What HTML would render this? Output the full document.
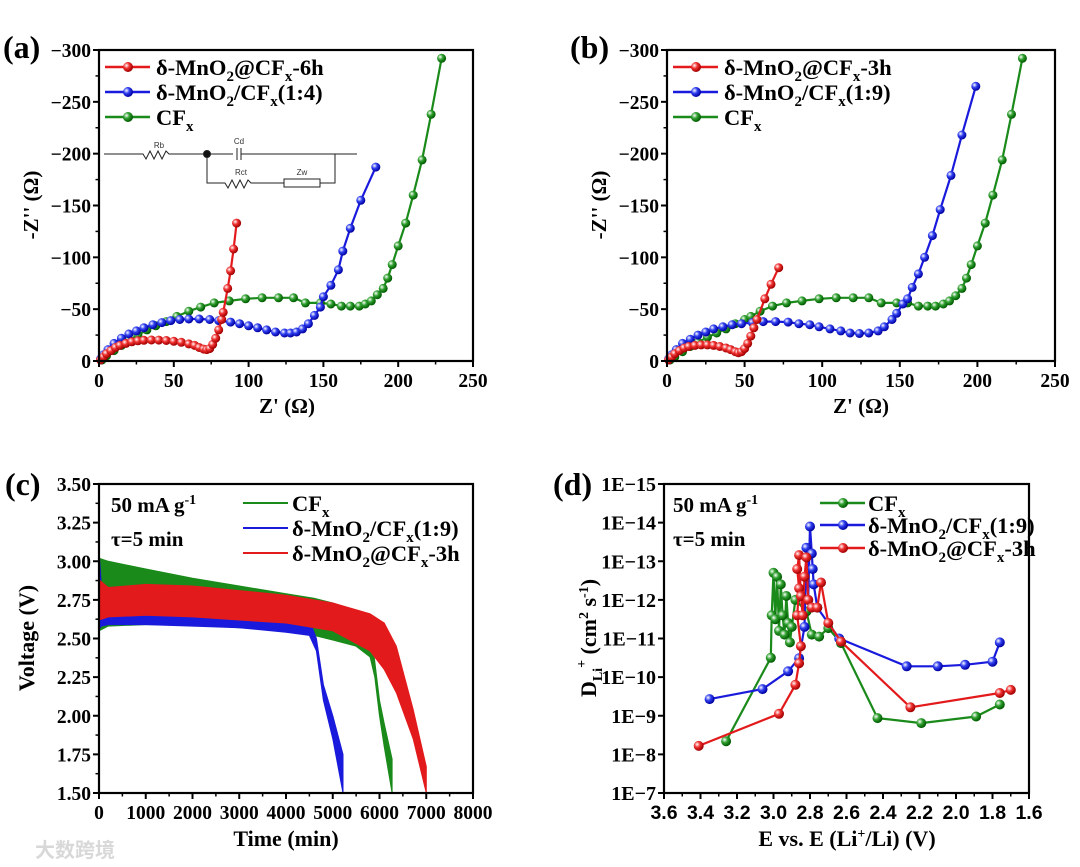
<!DOCTYPE html>
<html><head><meta charset="utf-8"><style>
html,body{margin:0;padding:0;background:#fff;}
svg{display:block;font-family:"Liberation Serif",serif;font-weight:bold;}
</style></head><body>
<svg id="fig" width="1080" height="867" viewBox="0 0 1080 867" xmlns="http://www.w3.org/2000/svg">
<defs>
<radialGradient id="gRed" cx="35%" cy="35%" r="65%"><stop offset="0" stop-color="#fff"/><stop offset="0.45" stop-color="#f03030"/><stop offset="1" stop-color="#a00000"/></radialGradient>
<radialGradient id="gBlue" cx="35%" cy="35%" r="65%"><stop offset="0" stop-color="#fff"/><stop offset="0.45" stop-color="#3040f0"/><stop offset="1" stop-color="#0000a0"/></radialGradient>
<radialGradient id="gGreen" cx="35%" cy="35%" r="65%"><stop offset="0" stop-color="#fff"/><stop offset="0.45" stop-color="#30a030"/><stop offset="1" stop-color="#005a00"/></radialGradient>
</defs>
<g id="layer-marks"></g>
<g id="layer-axes"></g>

<text x="3" y="58" font-size="32">(a)</text>
<text x="570" y="58" font-size="32">(b)</text>
<text x="5" y="495" font-size="32">(c)</text>
<text x="553" y="495" font-size="32">(d)</text>

<text x="287" y="413" font-size="21" text-anchor="middle">Z' (Ω)</text>
<text transform="translate(38,205) rotate(-90)" font-size="21" text-anchor="middle">-Z'' (Ω)</text>
<text x="861" y="413" font-size="21" text-anchor="middle">Z' (Ω)</text>
<text transform="translate(606,205) rotate(-90)" font-size="21" text-anchor="middle">-Z'' (Ω)</text>
<text x="286" y="846" font-size="22" text-anchor="middle">Time (min)</text>
<text transform="translate(34,638) rotate(-90)" font-size="22" text-anchor="middle">Voltage (V)</text>
<text x="847" y="846" font-size="22" text-anchor="middle">E vs. E (Li<tspan font-size="14" dy="-8">+</tspan><tspan dy="8">/Li) (V)</tspan></text>
<text transform="translate(596,638) rotate(-90)" font-size="22" text-anchor="middle">D<tspan font-size="14" dy="6">Li</tspan><tspan font-size="14" dy="-16">+</tspan><tspan dy="10"> (cm</tspan><tspan font-size="14" dy="-8">2</tspan><tspan dy="8"> s</tspan><tspan font-size="14" dy="-8">-1</tspan><tspan dy="8">)</tspan></text>

<g>
<line x1="105" y1="67" x2="150" y2="67" stroke="#e31a1c" stroke-width="2.5"/><circle cx="128" cy="67" r="5" fill="url(#gRed)"/>
<text x="156" y="75" font-size="22.5">δ-MnO<tspan font-size="15" dy="6">2</tspan><tspan dy="-6">@CF</tspan><tspan font-size="15" dy="6">x</tspan><tspan dy="-6">-6h</tspan></text>
<line x1="105" y1="92" x2="150" y2="92" stroke="#1a1adc" stroke-width="2.5"/><circle cx="128" cy="92" r="5" fill="url(#gBlue)"/>
<text x="156" y="100" font-size="22.5">δ-MnO<tspan font-size="15" dy="6">2</tspan><tspan dy="-6">/CF</tspan><tspan font-size="15" dy="6">x</tspan><tspan dy="-6">(1:4)</tspan></text>
<line x1="105" y1="117" x2="150" y2="117" stroke="#1a8a1a" stroke-width="2.5"/><circle cx="128" cy="117" r="5" fill="url(#gGreen)"/>
<text x="156" y="125" font-size="22.5">CF<tspan font-size="15" dy="6">x</tspan></text>
</g>
<g stroke="#222" stroke-width="1" fill="none" font-family="Liberation Sans, sans-serif" font-weight="normal">
<path d="M104 154 H143 l3 5 l4 -8 l4 8 l4 -8 l4 8 l4 -8 l3 3 H233 M237 148 V160 M241 148 V160 M241 154 H357"/>
<path d="M207 154 V183 H225 l3 5 l4 -8 l4 8 l4 -8 l4 8 l4 -8 l3 3 H284 M320 183 H335 V154"/>
<rect x="284" y="179" width="36" height="8"/>
<circle cx="207" cy="154" r="3.5" fill="#111"/>
<text x="159" y="148" font-size="8" fill="#333" stroke="none" text-anchor="middle">Rb</text>
<text x="239" y="144" font-size="8" fill="#333" stroke="none" text-anchor="middle">Cd</text>
<text x="241" y="175" font-size="8" fill="#333" stroke="none" text-anchor="middle">Rct</text>
<text x="302" y="175" font-size="8" fill="#333" stroke="none" text-anchor="middle">Zw</text>
</g>
<g>
<line x1="673" y1="67" x2="718" y2="67" stroke="#e31a1c" stroke-width="2.5"/><circle cx="696" cy="67" r="5" fill="url(#gRed)"/>
<text x="724" y="75" font-size="22.5">δ-MnO<tspan font-size="15" dy="6">2</tspan><tspan dy="-6">@CF</tspan><tspan font-size="15" dy="6">x</tspan><tspan dy="-6">-3h</tspan></text>
<line x1="673" y1="92" x2="718" y2="92" stroke="#1a1adc" stroke-width="2.5"/><circle cx="696" cy="92" r="5" fill="url(#gBlue)"/>
<text x="724" y="100" font-size="22.5">δ-MnO<tspan font-size="15" dy="6">2</tspan><tspan dy="-6">/CF</tspan><tspan font-size="15" dy="6">x</tspan><tspan dy="-6">(1:9)</tspan></text>
<line x1="673" y1="117" x2="718" y2="117" stroke="#1a8a1a" stroke-width="2.5"/><circle cx="696" cy="117" r="5" fill="url(#gGreen)"/>
<text x="724" y="125" font-size="22.5">CF<tspan font-size="15" dy="6">x</tspan></text>
</g>
<g>
<text x="111" y="512" font-size="21">50 mA g<tspan font-size="14" dy="-8">-1</tspan></text>
<text x="111" y="546" font-size="21">τ=5 min</text>
<line x1="243" y1="503" x2="288" y2="503" stroke="#1a8a1a" stroke-width="2"/>
<text x="292" y="511" font-size="22.5">CF<tspan font-size="15" dy="6">x</tspan></text>
<line x1="243" y1="528" x2="288" y2="528" stroke="#1a1adc" stroke-width="2"/>
<text x="292" y="536" font-size="22.5">δ-MnO<tspan font-size="15" dy="6">2</tspan><tspan dy="-6">/CF</tspan><tspan font-size="15" dy="6">x</tspan><tspan dy="-6">(1:9)</tspan></text>
<line x1="243" y1="553" x2="288" y2="553" stroke="#e31a1c" stroke-width="2"/>
<text x="292" y="561" font-size="22.5">δ-MnO<tspan font-size="15" dy="6">2</tspan><tspan dy="-6">@CF</tspan><tspan font-size="15" dy="6">x</tspan><tspan dy="-6">-3h</tspan></text>
</g>
<g>
<text x="673" y="512" font-size="21">50 mA g<tspan font-size="14" dy="-8">-1</tspan></text>
<text x="673" y="546" font-size="21">τ=5 min</text>
<line x1="820" y1="503" x2="865" y2="503" stroke="#1a8a1a" stroke-width="2.5"/><circle cx="843" cy="503" r="5" fill="url(#gGreen)"/>
<text x="868" y="511" font-size="22.5">CF<tspan font-size="15" dy="6">x</tspan></text>
<line x1="820" y1="525" x2="865" y2="525" stroke="#1a1adc" stroke-width="2.5"/><circle cx="843" cy="525" r="5" fill="url(#gBlue)"/>
<text x="868" y="533" font-size="22.5">δ-MnO<tspan font-size="15" dy="6">2</tspan><tspan dy="-6">/CF</tspan><tspan font-size="15" dy="6">x</tspan><tspan dy="-6">(1:9)</tspan></text>
<line x1="820" y1="548" x2="865" y2="548" stroke="#e31a1c" stroke-width="2.5"/><circle cx="843" cy="548" r="5" fill="url(#gRed)"/>
<text x="868" y="556" font-size="22.5">δ-MnO<tspan font-size="15" dy="6">2</tspan><tspan dy="-6">@CF</tspan><tspan font-size="15" dy="6">x</tspan><tspan dy="-6">-3h</tspan></text>
</g>
<text x="35" y="857" font-size="20" fill="#d8d8d8" font-family="Liberation Sans, Noto Sans CJK SC, sans-serif">大数跨境</text>
</svg>
<script>
const aRed=[[1,1],[3,4],[5,7],[8,10],[11,13],[14,15],[18,17],[22,18.5],[26,19.5],[30,20],[35,20.3],[40,20.2],[45,19.8],[50,19],[55,18],[60,16.5],[64,15],[67,13],[70,11.5],[72,11],[74,12],[76,16],[78,22],[80,30],[82,40],[83,47],[86,70],[88,87],[90,108],[92,133]];
const aBlue=[[1,2],[3,6],[6,11],[10,17],[15,22],[20,26],[25,29],[30,32],[36,35],[42,37],[48,39],[54,40],[60,40.5],[67,40.5],[74,40],[80,39],[88,37.5],[94,36],[100,34],[106,32],[112,30],[118,28],[124,27],[128,27],[132,28],[136,31],[140,36],[144,44],[148,52],[150,62],[155,73],[160,88],[163,106],[168,128],[175,155],[185,187]];
const aGreen=[[2,1],[5,5],[10,10],[15,15],[20,20],[26,25],[32,30],[38,34],[45,38],[52,43],[60,48],[68,52],[77,56],[87,58],[98,60],[109,61],[120,61],[130,61],[138,56],[148,56],[155,55],[162,53],[168,53],[174,53],[178,55],[182,58],[186,64],[190,70],[193,80],[196,93],[200,111],[205,133],[210,160],[216,194],[222,238],[229,292]];
const bRed=[[1,1],[3,4],[5,7],[8,10],[11,12.5],[14,14],[18,15],[22,15.5],[26,15.5],[30,15],[34,14],[38,12.5],[41,11],[44,9],[46,8],[48,9],[50,12],[52,17],[54,24],[56,32],[58,40],[63,60],[67,74],[72,90]];
const bBlue=[[1,2],[3,6],[6,11],[10,17],[15,21],[20,25],[25,28],[30,31],[36,33],[42,35],[48,36],[55,37],[62,38],[70,38],[78,37.5],[85,36],[92,35],[98,33],[105,31],[112,29],[118,27],[124,26.5],[130,27],[136,29],[140,33],[145,40],[148,46],[152,55],[155,60],[158,71],[162,84],[166,100],[171,121],[176,146],[183,179],[190,218],[199,265]];
const bGreen=[[2,1],[5,4],[10,9],[15,14],[20,18],[26,23],[32,27],[38,31],[44,36],[50,40],[54,43],[60,48],[68,53],[77,56],[87,58],[98,60],[109,61],[120,61],[130,61],[138,56],[148,56],[155,56],[162,53],[168,53],[173,53],[178,55],[182,58],[186,63],[190,70],[193,80],[196,93],[200,111],[205,133],[210,160],[216,194],[222,238],[229,292]];
const eisTicksX=[0,50,100,150,200,250];
const eisTicksY=[0,50,100,150,200,250,300];
const eisTickLabelsY=["0","\u221250","\u2212100","\u2212150","\u2212200","\u2212250","\u2212300"];
const cGreenT=[0,200,1000,2000,3000,4000,4600,5000,5500,5800,5900,6000,6100,6270];
const cGreenUp=[3.02,3.0,2.95,2.89,2.84,2.79,2.76,2.73,2.68,2.6,2.35,2.1,1.95,1.72];
const cGreenLo=[2.55,2.58,2.59,2.59,2.57,2.55,2.52,2.49,2.45,2.38,2.25,2.0,1.8,1.5];
const cBlueT=[0,50,200,1000,2000,3000,4000,4500,4650,4800,5000,5220];
const cBlueUp=[3.07,2.85,2.78,2.76,2.74,2.7,2.66,2.62,2.5,2.2,2.0,1.75];
const cBlueLo=[2.56,2.58,2.59,2.59,2.58,2.57,2.54,2.52,2.42,2.1,1.85,1.5];
const cRedT=[0,200,1000,2000,3000,4000,5000,5800,6100,6360,6720,7000];
const cRedUp=[2.88,2.83,2.85,2.84,2.81,2.78,2.73,2.66,2.6,2.45,2.04,1.67];
const cRedLo=[2.62,2.64,2.65,2.64,2.62,2.6,2.55,2.42,2.3,2.15,1.85,1.5];
const cTicksX=[0,1000,2000,3000,4000,5000,6000,7000,8000];
const cTicksY=[1.5,1.75,2.0,2.25,2.5,2.75,3.0,3.25,3.5];
const cTickLabelsY=["1.50","1.75","2.00","2.25","2.50","2.75","3.00","3.25","3.50"];
const dGreenE=[3.26,3.015,3.01,3.0,2.99,2.98,2.97,2.96,2.95,2.94,2.93,2.92,2.91,2.9,2.88,2.82,2.79,2.75,2.70,2.63,2.43,2.19,1.89,1.76];
const dGreenLog=[-8.34,-10.5,-11.6,-12.7,-11.5,-12.6,-11.2,-12.4,-11.6,-11.1,-12.1,-11.4,-10.9,-11.3,-12.0,-11.7,-11.1,-11.05,-11.27,-10.88,-8.94,-8.81,-8.98,-9.29];
const dBlueE=[3.35,3.06,2.92,2.86,2.83,2.82,2.81,2.80,2.79,2.785,2.78,2.76,2.64,2.27,2.1,1.95,1.8,1.76];
const dBlueLog=[-9.43,-9.69,-10.15,-10.49,-11.3,-13.35,-12.0,-13.9,-13.2,-12.8,-12.4,-11.8,-11.0,-10.28,-10.28,-10.32,-10.4,-10.9];
const dRedE=[3.41,2.97,2.88,2.86,2.85,2.87,2.86,2.87,2.86,2.85,2.84,2.83,2.82,2.81,2.79,2.76,2.74,2.70,2.63,2.25,1.76,1.70];
const dRedLog=[-8.22,-9.05,-9.8,-10.36,-10.8,-11.6,-12.3,-12.8,-13.16,-12.1,-11.6,-12.6,-13.1,-12.0,-11.8,-11.8,-12.45,-11.4,-10.92,-9.22,-9.59,-9.67];
const dTicksX=[3.6,3.4,3.2,3.0,2.8,2.6,2.4,2.2,2.0,1.8,1.6];
const dTickLabelsX=["3.6","3.4","3.2","3.0","2.8","2.6","2.4","2.2","2.0","1.8","1.6"];
const dTicksY=[-15,-14,-13,-12,-11,-10,-9,-8,-7];
const dTickLabelsY=["1E\u221215","1E\u221214","1E\u221213","1E\u221212","1E\u221211","1E\u221210","1E\u22129","1E\u22128","1E\u22127"];

const NS="http://www.w3.org/2000/svg";
const marks=document.getElementById('layer-marks');
const axes=document.getElementById('layer-axes');
function lin(d0,d1,r0,r1){return v=>r0+(v-d0)/(d1-d0)*(r1-r0);}
function mk(tag,parent,attrs){const e=document.createElementNS(NS,tag);for(const k in attrs)e.setAttribute(k,attrs[k]);parent.appendChild(e);return e;}
const COL={red:"#e31a1c",blue:"#1a1adc",green:"#1a8a1a"};
const GRAD={red:"url(#gRed)",blue:"url(#gBlue)",green:"url(#gGreen)"};

function drawSeries(name,xs,ys,sx,sy,color,r){
  const g=mk('g',marks,{});
  
  
  const pts=xs.map((x,i)=>sx(x).toFixed(1)+','+sy(ys[i]).toFixed(1)).join(' ');
  const pl=mk('polyline',g,{points:pts,fill:'none',stroke:COL[color],'stroke-width':2.2,'stroke-linejoin':'round'});
  
  
  xs.forEach((x,i)=>{
    const c=mk('circle',g,{cx:sx(x).toFixed(1),cy:sy(ys[i]).toFixed(1),r:r,fill:GRAD[color]});
    
    
  });
}
function drawPairs(name,arr,sx,sy,color,r){drawSeries(name,arr.map(p=>p[0]),arr.map(p=>p[1]),sx,sy,color,r);}

function drawBand(name,ts,up,lo,sx,sy,color){
  const pts=ts.map((t,i)=>sx(t).toFixed(1)+','+sy(up[i]).toFixed(1));
  for(let i=ts.length-1;i>=0;i--)pts.push(sx(ts[i]).toFixed(1)+','+sy(lo[i]).toFixed(1));
  const p=mk('polygon',marks,{points:pts.join(' '),fill:COL[color],stroke:COL[color],'stroke-width':1});
  
  
}

function frame(name,x0,x1,y0,y1,xt,xl,yt,yl,sx,sy,xMinor,yMinor,xFont,yFont,yfs){
  const g=mk('g',axes,{});
  
  
  mk('rect',g,{x:x0,y:y0,width:x1-x0,height:y1-y0,fill:'none',stroke:'#000','stroke-width':2.2});
  xt.forEach((v,i)=>{const x=sx(v);mk('line',g,{x1:x,y1:y1,x2:x,y2:y1+6,stroke:'#000','stroke-width':2});
    const t=mk('text',g,{x:x,y:y1+26,'font-size':19.5,'text-anchor':'middle','font-family':xFont});t.textContent=xl[i];
    
    });
  xMinor.forEach(v=>{const x=sx(v);mk('line',g,{x1:x,y1:y1,x2:x,y2:y1+3.5,stroke:'#000','stroke-width':1.5});});
  yt.forEach((v,i)=>{const y=sy(v);mk('line',g,{x1:x0-6,y1:y,x2:x0,y2:y,stroke:'#000','stroke-width':2});
    const t=mk('text',g,{x:x0-8,y:y+7,'font-size':yfs,'text-anchor':'end','font-family':yFont});t.textContent=yl[i];
    
    });
  yMinor.forEach(v=>{const y=sy(v);mk('line',g,{x1:x0-3.5,y1:y,x2:x0,y2:y,stroke:'#000','stroke-width':1.5});});
}
const serif='Liberation Serif, serif', sans='Liberation Sans, sans-serif';
function mids(a){const r=[];for(let i=0;i<a.length-1;i++)r.push((a[i]+a[i+1])/2);return r;}

let sx=lin(0,250,99,473), sy=lin(0,300,361,50);
drawPairs('a-series-cfx',aGreen,sx,sy,'green',4.5);
drawPairs('a-series-mno2-cfx-1-4',aBlue,sx,sy,'blue',4.5);
drawPairs('a-series-mno2-at-cfx-6h',aRed,sx,sy,'red',4.5);
frame('a-axes',99,473,50,361,eisTicksX,eisTicksX.map(String),eisTicksY,eisTickLabelsY,sx,sy,mids(eisTicksX),mids(eisTicksY),serif,serif,19.5);
sx=lin(0,250,667,1055); sy=lin(0,300,361,50);
drawPairs('b-series-cfx',bGreen,sx,sy,'green',4.5);
drawPairs('b-series-mno2-cfx-1-9',bBlue,sx,sy,'blue',4.5);
drawPairs('b-series-mno2-at-cfx-3h',bRed,sx,sy,'red',4.5);
frame('b-axes',667,1055,50,361,eisTicksX,eisTicksX.map(String),eisTicksY,eisTickLabelsY,sx,sy,mids(eisTicksX),mids(eisTicksY),serif,serif,19.5);
sx=lin(0,8000,99,473); sy=lin(1.5,3.5,793,484);
drawBand('c-band-cfx',cGreenT,cGreenUp,cGreenLo,sx,sy,'green');
drawBand('c-band-mno2-cfx-1-9',cBlueT,cBlueUp,cBlueLo,sx,sy,'blue');
drawBand('c-band-mno2-at-cfx-3h',cRedT,cRedUp,cRedLo,sx,sy,'red');
frame('c-axes',99,473,484,793,cTicksX,cTicksX.map(String),cTicksY,cTickLabelsY,sx,sy,mids(cTicksX),mids(cTicksY),serif,serif,19.5);
sx=lin(3.6,1.6,664,1029); sy=lin(-15,-7,484,793);
drawSeries('d-series-cfx',dGreenE,dGreenLog,sx,sy,'green',5);
drawSeries('d-series-mno2-cfx-1-9',dBlueE,dBlueLog,sx,sy,'blue',5);
drawSeries('d-series-mno2-at-cfx-3h',dRedE,dRedLog,sx,sy,'red',5);
frame('d-axes',664,1029,484,793,dTicksX,dTickLabelsX,dTicksY,dTickLabelsY,sx,sy,mids(dTicksX),[],sans,serif,20);
</script>
</body></html>
